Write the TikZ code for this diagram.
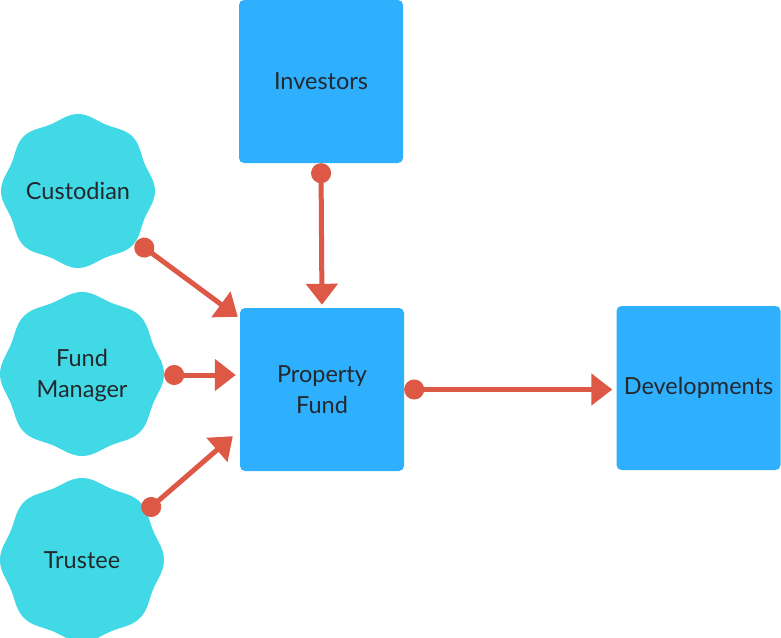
\documentclass[tikz,border=0pt]{standalone}
\usepackage{fontspec}
\setmainfont{Lato}
\usetikzlibrary{arrows.meta,calc}
\definecolor{boxblue}{RGB}{46,176,255}
\definecolor{wavecyan}{RGB}{66,217,230}
\definecolor{arrred}{RGB}{222,88,70}
\definecolor{txtcol}{RGB}{35,40,45}
\newcommand{\wavefill}[4]{% cx, cy, mean radius, amplitude
  \fill[wavecyan] plot[domain=0:360, samples=241] ({#1+(#3+#4*cos(8*\x))*cos(\x)}, {#2+(#3+#4*cos(8*\x))*sin(\x)}) -- cycle;}
\begin{document}
\begin{tikzpicture}[x=1pt,y=-1pt,
  labelfont/.style={text=txtcol, font=\fontsize{23.5}{31}\selectfont, align=center},
  boxnode/.style={labelfont, fill=boxblue, rounded corners=5pt, minimum width=164pt, minimum height=163pt, inner sep=0pt},
  wavenode/.style={labelfont, circle, inner sep=0pt},
  conn/.style={draw=arrred, line width=5pt, {Circle[length=20pt,width=20pt]}-{Triangle[length=21pt,width=31pt]}}
]
\clip (0,0) rectangle (781,637);
% wavy shapes
\wavefill{78}{191}{74.5}{2.5}
\wavefill{82}{374}{79.5}{2.5}
\wavefill{82}{560}{79.5}{2.5}
\node[wavenode, minimum size=154pt] (cust) at (78,191) {Custodian};
\node[wavenode, minimum size=164pt] (fm) at (82,375) {Fund\\Manager};
\node[wavenode, minimum size=154pt] (tr) at (82,560) {Trustee};
% boxes
\node[boxnode] (inv) at (321,81.5) {Investors};
\node[boxnode] (pf) at (322,389.5) {Property\\Fund};
\node[boxnode, minimum height=164pt] (dev) at (698.5,388) {Developments};
% connectors
\draw[conn, shorten >=3pt] (inv.south) -- (pf.north);
\draw[conn] (cust.-41) -- ($(pf.north west)+(-2,9)$);
\draw[conn, shorten >=4pt] (fm.east) -- (fm.east -| pf.west);
\draw[conn] (tr.37) -- ($(pf.south west)+(-7,-35)$);
\draw[conn, shorten >=4pt] (pf.east) -- (pf.east -| dev.west);
\end{tikzpicture}
\end{document}
